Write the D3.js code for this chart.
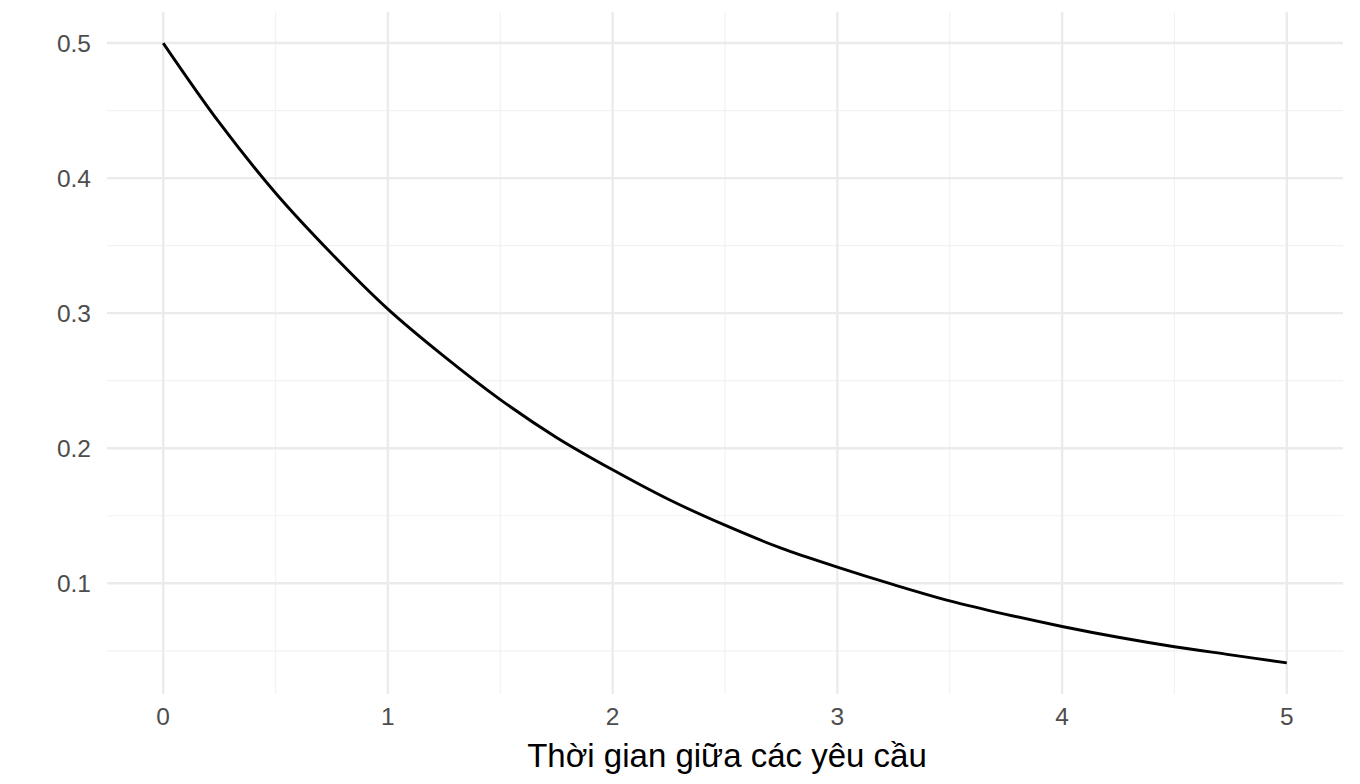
<!DOCTYPE html>
<html><head><meta charset="utf-8">
<script src="https://cdn.jsdelivr.net/npm/d3@7"></script>
<style>body{margin:0;background:#fff}svg{display:block}</style>
</head><body><svg id="c" width="1360" height="784"></svg>
<script>
const xValues = [0,0.25,0.5,0.75,1,1.25,1.5,1.75,2,2.25,2.5,2.75,3,3.25,3.5,3.75,4,4.25,4.5,4.75,5];
const yValues = [0.500,0.441,0.389,0.344,0.303,0.268,0.236,0.208,0.184,0.162,0.143,0.126,0.112,0.099,0.087,0.077,0.068,0.060,0.053,0.047,0.041];
const xTicks = [0,1,2,3,4,5];
const yTicks = [0.1,0.2,0.3,0.4,0.5];
const xMinor = [0.5,1.5,2.5,3.5,4.5];
const yMinor = [0.05,0.15,0.25,0.35,0.45];
const xLabel = "Thời gian giữa các yêu cầu";

const svg = d3.select("#c");
const L=107, R=1343, T=12, B=694;
const x = d3.scaleLinear().domain([-0.25,5.25]).range([L,R]);
const y = d3.scaleLinear().domain([0.018,0.523]).range([B,T]);
const g = svg.append("g");
g.selectAll(".ym").data(yMinor).join("line").attr("x1",L).attr("x2",R).attr("y1",d=>y(d)).attr("y2",d=>y(d)).attr("stroke","#f2f2f2").attr("stroke-width",1.2);
g.selectAll(".xm").data(xMinor).join("line").attr("y1",T).attr("y2",B).attr("x1",d=>x(d)).attr("x2",d=>x(d)).attr("stroke","#f2f2f2").attr("stroke-width",1.2);
g.selectAll(".yM").data(yTicks).join("line").attr("x1",L).attr("x2",R).attr("y1",d=>y(d)).attr("y2",d=>y(d)).attr("stroke","#ebebeb").attr("stroke-width",2.4);
g.selectAll(".xM").data(xTicks).join("line").attr("y1",T).attr("y2",B).attr("x1",d=>x(d)).attr("x2",d=>x(d)).attr("stroke","#ebebeb").attr("stroke-width",2.4);

const line = d3.line().x((d,i)=>x(xValues[i])).y(d=>y(d)).curve(d3.curveCatmullRom);
svg.append("path").datum(yValues).attr("d",line).attr("fill","none").attr("stroke","#000").attr("stroke-width",2.9);

const font = "'Liberation Sans', Arial, sans-serif";
svg.selectAll(".yl").data(yTicks).join("text").attr("x",91).attr("y",d=>y(d)).attr("dy","0.36em").attr("text-anchor","end").attr("font-family",font).attr("font-size",24.5).attr("fill","#4d4d4d").text(d=>d3.format(".1f")(d));
svg.selectAll(".xl").data(xTicks).join("text").attr("x",d=>x(d)).attr("y",725).attr("text-anchor","middle").attr("font-family",font).attr("font-size",24.5).attr("fill","#4d4d4d").text(d=>d);
svg.append("text").attr("x",(L+R)/2+2).attr("y",767).attr("text-anchor","middle").attr("font-family",font).attr("font-size",33).attr("fill","#000").text(xLabel);
</script></body></html>
